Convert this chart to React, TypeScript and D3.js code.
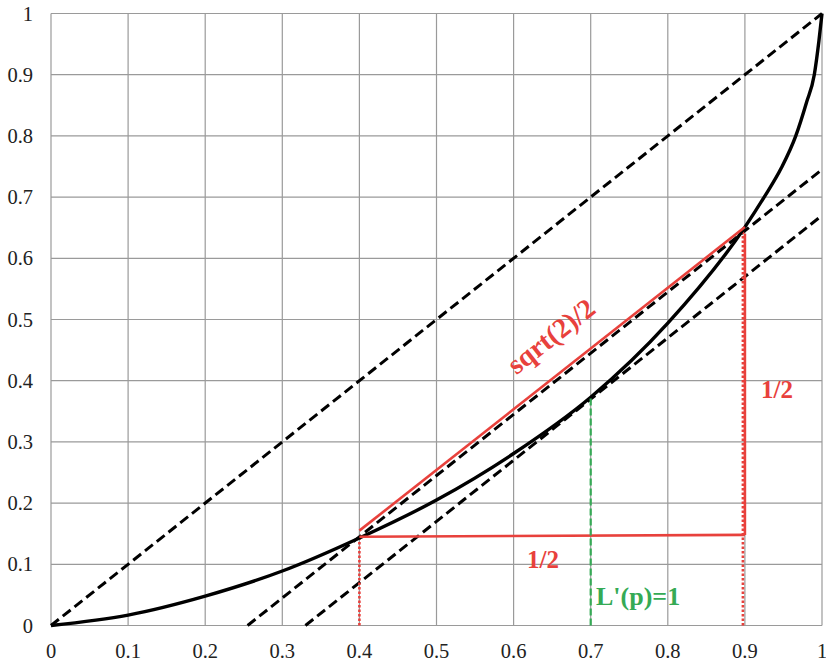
import React from "react";
import * as d3 from "d3";

// Lorenz curve samples
const curveP = [0, 0.1, 0.2, 0.3, 0.4, 0.5, 0.6, 0.7, 0.8, 0.9, 0.925, 0.947, 0.966, 0.98, 0.99, 0.996, 1];
const curveL = [0, 0.017, 0.048, 0.089, 0.143, 0.205, 0.281, 0.373, 0.494, 0.651, 0.7, 0.747, 0.8, 0.855, 0.9, 0.955, 1];

// dashed straight lines (start x/y, end x/y)
const dashX0 = [0, 0.255, 0.33];
const dashY0 = [0, 0, 0];
const dashX1 = [1, 1, 1];
const dashY1 = [1, 0.745, 0.67];

const tickValues = [0, 0.1, 0.2, 0.3, 0.4, 0.5, 0.6, 0.7, 0.8, 0.9, 1];
const tickLabels = ["0", "0.1", "0.2", "0.3", "0.4", "0.5", "0.6", "0.7", "0.8", "0.9", "1"];

// annotation geometry (data units)
const chordStart = [0.4, 0.155];
const chordEnd = [0.9, 0.651];
const horizStart = [0.4, 0.145];
const horizEnd = [0.9, 0.148];
const vertTop = 0.64;
const dotX = [0.4, 0.9];
const dotTop = [0.145, 0.645];
const tangentX = 0.7;
const tangentTop = 0.373;

const W = 826;
const H = 664;
const RED = "#e8413c";
const GREEN = "#35aa55";

export default function App() {
  const x = d3.scaleLinear().domain([0, 1]).range([51, 822]);
  const y = d3.scaleLinear().domain([0, 1]).range([625.5, 13.5]);

  const line = d3
    .line<number>()
    .x((_, i) => x(curveP[i]))
    .y((d) => y(d))
    .curve(d3.curveMonotoneX);

  const serif = "'Liberation Serif', 'Times New Roman', serif";

  const ang =
    (Math.atan2(y(chordEnd[1]) - y(chordStart[1]), x(chordEnd[0]) - x(chordStart[0])) * 180) / Math.PI;

  return (
    <svg
      width={W}
      height={H}
      style={{ position: "absolute", left: 0, top: 0, background: "#fff" }}
    >
      <rect x={0} y={0} width={W} height={H} fill="#fff" />
      {/* grid */}
      {tickValues.map((t, i) => (
        <g key={"g" + i}>
          <line x1={x(t)} x2={x(t)} y1={y(0)} y2={y(1)} stroke="#9a9a9a" strokeWidth={1.2} />
          <line x1={x(0)} x2={x(1)} y1={y(t)} y2={y(t)} stroke="#9a9a9a" strokeWidth={1.2} />
        </g>
      ))}
      {/* tick labels */}
      {tickValues.map((t, i) => (
        <text
          key={"yl" + i}
          x={33}
          y={y(t)}
          textAnchor="end"
          dominantBaseline="central"
          fontFamily={serif}
          fontSize={20.5}
          fill="#222"
        >
          {tickLabels[i]}
        </text>
      ))}
      {tickValues.map((t, i) => (
        <text
          key={"xl" + i}
          x={x(t)}
          y={651}
          textAnchor="middle"
          dominantBaseline="central"
          fontFamily={serif}
          fontSize={20.5}
          fill="#222"
        >
          {tickLabels[i]}
        </text>
      ))}
      {/* dashed lines */}
      {dashX0.map((_, i) => (
        <line
          key={"d" + i}
          x1={x(dashX0[i])}
          y1={y(dashY0[i])}
          x2={x(dashX1[i])}
          y2={y(dashY1[i])}
          stroke="#000"
          strokeWidth={3}
          strokeDasharray="10,5"
        />
      ))}
      {/* red dotted verticals */}
      {dotX.map((d, i) => (
        <line
          key={"dot" + i}
          x1={x(d) - (i === 1 ? 2 : 0)}
          x2={x(d) - (i === 1 ? 2 : 0)}
          y1={y(0)}
          y2={y(dotTop[i])}
          stroke={RED}
          strokeWidth={2.6}
          strokeDasharray="2.5,2"
        />
      ))}
      {/* curve */}
      <path d={line(curveL) || ""} fill="none" stroke="#000" strokeWidth={3.4} />
      {/* red triangle */}
      <line
        x1={x(chordStart[0])}
        y1={y(chordStart[1])}
        x2={x(chordEnd[0])}
        y2={y(chordEnd[1])}
        stroke={RED}
        strokeWidth={2.6}
      />
      <line
        x1={x(horizStart[0])}
        y1={y(horizStart[1])}
        x2={x(horizEnd[0])}
        y2={y(horizEnd[1])}
        stroke={RED}
        strokeWidth={2.6}
      />
      <line
        x1={x(horizEnd[0])}
        y1={y(horizEnd[1])}
        x2={x(horizEnd[0])}
        y2={y(vertTop)}
        stroke={RED}
        strokeWidth={2.6}
      />
      {/* green tangent marker */}
      <line
        x1={x(tangentX)}
        x2={x(tangentX)}
        y1={y(0)}
        y2={y(tangentTop)}
        stroke={GREEN}
        strokeWidth={2.2}
        strokeDasharray="7,3"
      />
      {/* annotations */}
      <text
        x={543}
        y={559}
        textAnchor="middle"
        dominantBaseline="central"
        fontFamily={serif}
        fontWeight="bold"
        fontSize={25}
        fill={RED}
      >
        1/2
      </text>
      <text
        x={777}
        y={389}
        textAnchor="middle"
        dominantBaseline="central"
        fontFamily={serif}
        fontWeight="bold"
        fontSize={25}
        fill={RED}
      >
        1/2
      </text>
      <text
        x={596}
        y={596}
        textAnchor="start"
        dominantBaseline="central"
        fontFamily={serif}
        fontWeight="bold"
        fontSize={26}
        fill={GREEN}
      >
        L'(p)=1
      </text>
      <text
        transform={`translate(551,336) rotate(${ang})`}
        textAnchor="middle"
        dominantBaseline="central"
        fontFamily={serif}
        fontWeight="bold"
        fontSize={28}
        fill={RED}
      >
        sqrt(2)/2
      </text>
    </svg>
  );
}
